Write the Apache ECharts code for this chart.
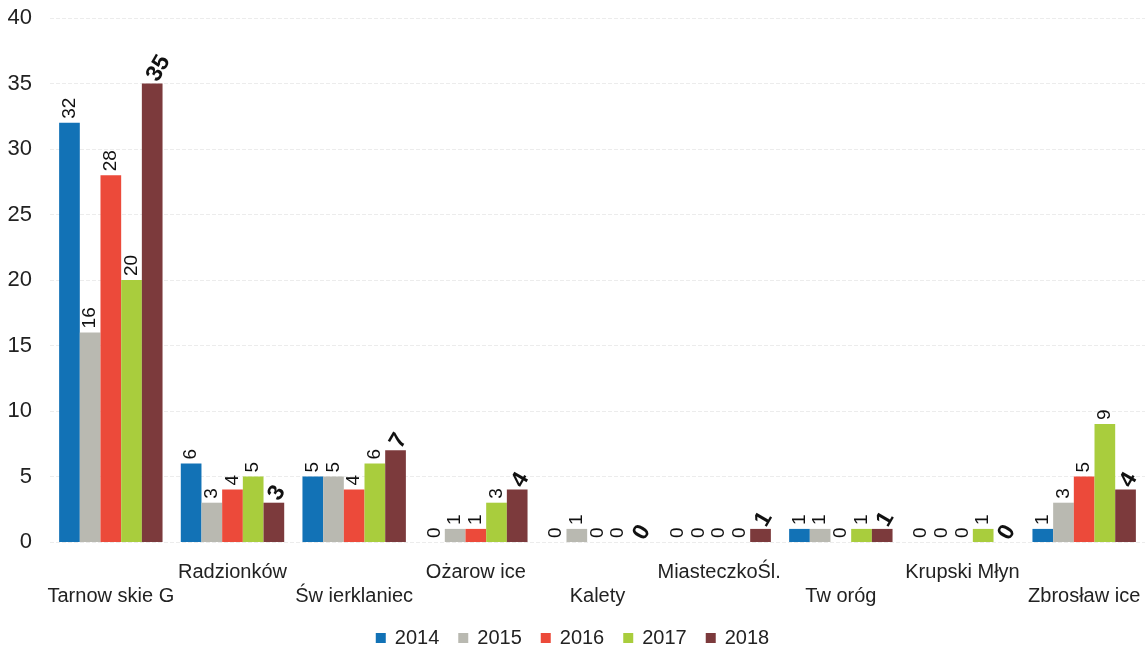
<!DOCTYPE html>
<html>
<head>
<meta charset="utf-8">
<script src="https://cdn.jsdelivr.net/npm/echarts@6/dist/echarts.min.js"></script>
<style>html,body{margin:0;padding:0;background:#fff;}#c{width:1145px;height:654px;}</style>
</head>
<body>
<div id="c"></div>
<script>
const categories = ["Tarnow skie G", "Radzionków", "Św ierklaniec", "Ożarow ice", "Kalety", "MiasteczkoŚl.", "Tw oróg", "Krupski Młyn", "Zbrosław ice"];
const years = ["2014", "2015", "2016", "2017", "2018"];
const v2014 = [32, 6, 5, 0, 0, 0, 1, 0, 1];
const v2015 = [16, 3, 5, 1, 1, 0, 1, 0, 3];
const v2016 = [28, 4, 4, 1, 0, 0, 0, 0, 5];
const v2017 = [20, 5, 6, 3, 0, 0, 1, 1, 9];
const v2018 = [35, 3, 7, 4, 0, 1, 1, 0, 4];
const yTicks = [0, 5, 10, 15, 20, 25, 30, 35, 40];

const colors = ["#1272b6", "#b9b9b1", "#ec4a3a", "#a9cd3d", "#7c3a3c"];
const seriesData = [v2014, v2015, v2016, v2017, v2018];

const chart = echarts.init(document.getElementById('c'));
const series = seriesData.map((d, i) => ({
  name: years[i],
  type: 'bar',
  data: d,
  barGap: '0%',
  barCategoryGap: '15%',
  itemStyle: { color: colors[i] },
  label: i === 4 ? {
    show: true, position: 'top', rotate: 60, align: 'left', verticalAlign: 'middle',
    distance: 4, fontSize: 23, fontWeight: 'bold', color: '#111', fontFamily: 'Liberation Sans'
  } : {
    show: true, position: 'top', rotate: 90, align: 'left', verticalAlign: 'middle',
    distance: 4, fontSize: 19, color: '#111', fontFamily: 'Liberation Sans'
  }
}));

chart.setOption({
  animation: false,
  backgroundColor: '#fff',
  grid: { left: 50, right: 0, top: 18, bottom: 112 },
  legend: {
    data: years, bottom: 1, left: 'center', itemWidth: 10, itemHeight: 10, itemGap: 19,
    icon: 'rect',
    textStyle: { fontSize: 20, color: '#222', fontFamily: 'Liberation Sans', padding: [0, 0, 0, 4] }
  },
  xAxis: {
    type: 'category', data: categories,
    axisLine: { show: false }, axisTick: { show: false },
    axisLabel: {
      interval: 0, fontSize: 20, color: '#222', fontFamily: 'Liberation Sans', margin: 18,
      lineHeight: 24,
      formatter: (val, idx) => idx % 2 === 0 ? '\n' + val : val
    }
  },
  yAxis: {
    type: 'value', min: 0, max: 40, interval: 5,
    axisLine: { show: false }, axisTick: { show: false },
    axisLabel: { fontSize: 22, color: '#222', fontFamily: 'Liberation Sans', margin: 18,
      formatter: v => yTicks.includes(v) ? String(v) : '' },
    splitLine: { lineStyle: { color: '#ececec', type: 'dashed' } }
  },
  series: series
});
</script>
</body>
</html>
